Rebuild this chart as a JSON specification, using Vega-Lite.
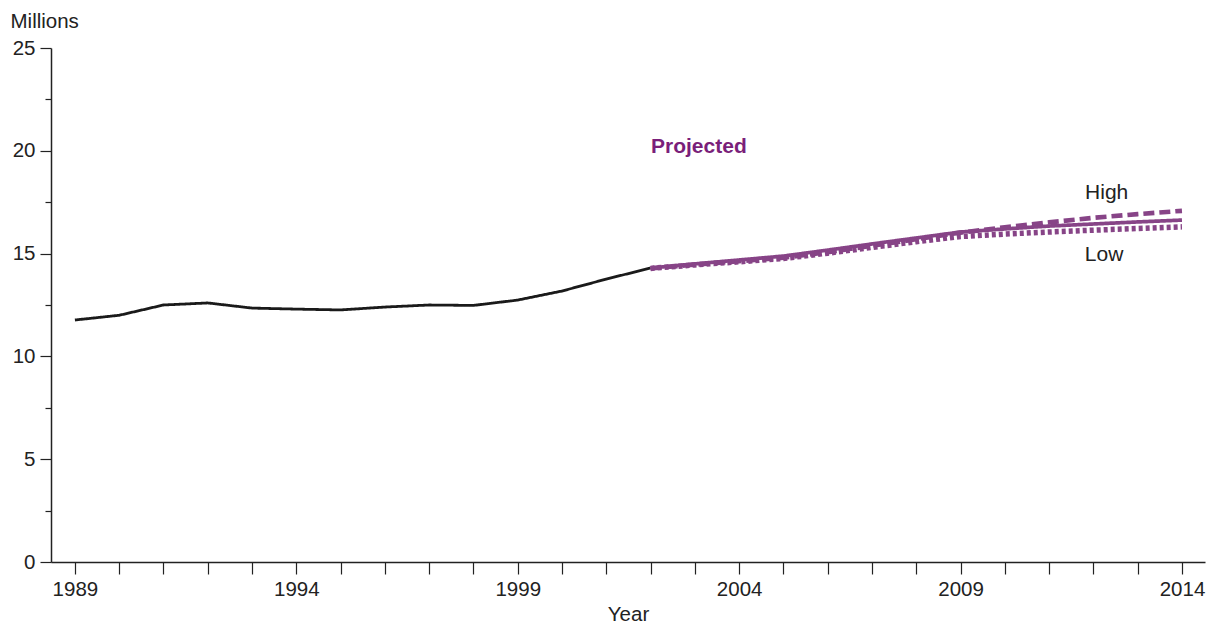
{
  "$schema": "https://vega.github.io/schema/vega-lite/v6.json",
  "width": 1154,
  "height": 514,
  "autosize": "none",
  "padding": {"left": 51, "top": 48, "right": 11, "bottom": 62},
  "background": "white",
  "config": {
    "view": {"stroke": null},
    "font": "Liberation Sans",
    "axis": {"grid": false, "domainColor": "#222", "tickColor": "#222", "labelColor": "#222", "titleColor": "#222", "labelFontSize": 20.5, "titleFontSize": 20.5, "titleFontWeight": "normal", "domainWidth": 1.5, "tickWidth": 1.2}
  },
  "datasets": {
    "series": [
      {"year": 1989, "value": 11.77, "series": "Actual"},
      {"year": 1990, "value": 12.0, "series": "Actual"},
      {"year": 1991, "value": 12.5, "series": "Actual"},
      {"year": 1992, "value": 12.6, "series": "Actual"},
      {"year": 1993, "value": 12.35, "series": "Actual"},
      {"year": 1994, "value": 12.3, "series": "Actual"},
      {"year": 1995, "value": 12.26, "series": "Actual"},
      {"year": 1996, "value": 12.4, "series": "Actual"},
      {"year": 1997, "value": 12.5, "series": "Actual"},
      {"year": 1998, "value": 12.48, "series": "Actual"},
      {"year": 1999, "value": 12.74, "series": "Actual"},
      {"year": 2000, "value": 13.18, "series": "Actual"},
      {"year": 2001, "value": 13.76, "series": "Actual"},
      {"year": 2002, "value": 14.3, "series": "Actual"},
      {"year": 2002, "value": 14.3, "series": "Middle"},
      {"year": 2003, "value": 14.5, "series": "Middle"},
      {"year": 2004, "value": 14.69, "series": "Middle"},
      {"year": 2005, "value": 14.88, "series": "Middle"},
      {"year": 2006, "value": 15.17, "series": "Middle"},
      {"year": 2007, "value": 15.47, "series": "Middle"},
      {"year": 2008, "value": 15.76, "series": "Middle"},
      {"year": 2009, "value": 16.05, "series": "Middle"},
      {"year": 2010, "value": 16.2, "series": "Middle"},
      {"year": 2011, "value": 16.34, "series": "Middle"},
      {"year": 2012, "value": 16.44, "series": "Middle"},
      {"year": 2013, "value": 16.54, "series": "Middle"},
      {"year": 2014, "value": 16.63, "series": "Middle"},
      {"year": 2002, "value": 14.28, "series": "High"},
      {"year": 2003, "value": 14.46, "series": "High"},
      {"year": 2004, "value": 14.63, "series": "High"},
      {"year": 2005, "value": 14.8, "series": "High"},
      {"year": 2006, "value": 15.07, "series": "High"},
      {"year": 2007, "value": 15.38, "series": "High"},
      {"year": 2008, "value": 15.7, "series": "High"},
      {"year": 2009, "value": 16.02, "series": "High"},
      {"year": 2010, "value": 16.28, "series": "High"},
      {"year": 2011, "value": 16.52, "series": "High"},
      {"year": 2012, "value": 16.74, "series": "High"},
      {"year": 2013, "value": 16.92, "series": "High"},
      {"year": 2014, "value": 17.08, "series": "High"},
      {"year": 2002, "value": 14.28, "series": "Low"},
      {"year": 2003, "value": 14.45, "series": "Low"},
      {"year": 2004, "value": 14.6, "series": "Low"},
      {"year": 2005, "value": 14.76, "series": "Low"},
      {"year": 2006, "value": 15.02, "series": "Low"},
      {"year": 2007, "value": 15.3, "series": "Low"},
      {"year": 2008, "value": 15.58, "series": "Low"},
      {"year": 2009, "value": 15.83, "series": "Low"},
      {"year": 2010, "value": 15.95, "series": "Low"},
      {"year": 2011, "value": 16.05, "series": "Low"},
      {"year": 2012, "value": 16.14, "series": "Low"},
      {"year": 2013, "value": 16.22, "series": "Low"},
      {"year": 2014, "value": 16.3, "series": "Low"}
    ],
    "heading": [
      {"year": 2003.09, "value": 20.18, "text": "Projected"}
    ],
    "sides": [
      {"year": 2012.3, "value": 17.95, "text": "High"},
      {"year": 2012.24, "value": 14.93, "text": "Low"}
    ]
  },
  "layer": [
    {
      "data": {"name": "series"},
      "mark": {"type": "line", "strokeCap": "butt"},
      "encoding": {
        "x": {
          "field": "year",
          "type": "quantitative",
          "scale": {"domain": [1988.46, 2014.52], "nice": false, "zero": false},
          "axis": {
            "title": "Year",
            "values": [1989, 1990, 1991, 1992, 1993, 1994, 1995, 1996, 1997, 1998, 1999, 2000, 2001, 2002, 2003, 2004, 2005, 2006, 2007, 2008, 2009, 2010, 2011, 2012, 2013, 2014],
            "format": "d",
            "labelExpr": "(datum.value - 1989) % 5 === 0 ? datum.label : ''",
            "tickSize": 12,
            "labelPadding": 5,
            "titlePadding": 5
          }
        },
        "y": {
          "field": "value",
          "type": "quantitative",
          "scale": {"domain": [0, 25], "nice": false},
          "axis": {
            "title": "Millions",
            "titleAngle": 0,
            "titleAlign": "left",
            "titleBaseline": "alphabetic",
            "titleX": -41,
            "titleY": -21,
            "values": [0, 2.5, 5, 7.5, 10, 12.5, 15, 17.5, 20, 22.5, 25],
            "labelExpr": "datum.value % 5 === 0 ? datum.label : ''",
            "tickSize": {"condition": {"test": "datum.value % 5 === 0", "value": 11}, "value": 6},
            "labelPadding": 5
          }
        },
        "detail": {"field": "series"},
        "color": {
          "field": "series",
          "type": "nominal",
          "scale": {"domain": ["Actual", "Middle", "High", "Low"], "range": ["#1a1a1a", "#874487", "#874487", "#874487"]},
          "legend": null
        },
        "strokeWidth": {
          "field": "series",
          "type": "nominal",
          "scale": {"domain": ["Actual", "Middle", "High", "Low"], "range": [2.8, 5.5, 5.5, 5.5]},
          "legend": null
        },
        "strokeDash": {
          "field": "series",
          "type": "nominal",
          "scale": {"domain": ["Actual", "Middle", "High", "Low"], "range": [[1, 0], [1, 0], [11, 5], [4, 3]]},
          "legend": null
        }
      }
    },
    {
      "data": {"name": "heading"},
      "mark": {"type": "text", "align": "center", "baseline": "middle", "fontWeight": "bold", "fontSize": 21, "color": "#7a1f7a"},
      "encoding": {
        "x": {"field": "year", "type": "quantitative"},
        "y": {"field": "value", "type": "quantitative"},
        "text": {"field": "text"}
      }
    },
    {
      "data": {"name": "sides"},
      "mark": {"type": "text", "align": "center", "baseline": "middle", "fontSize": 21, "color": "#222"},
      "encoding": {
        "x": {"field": "year", "type": "quantitative"},
        "y": {"field": "value", "type": "quantitative"},
        "text": {"field": "text"}
      }
    }
  ]
}
